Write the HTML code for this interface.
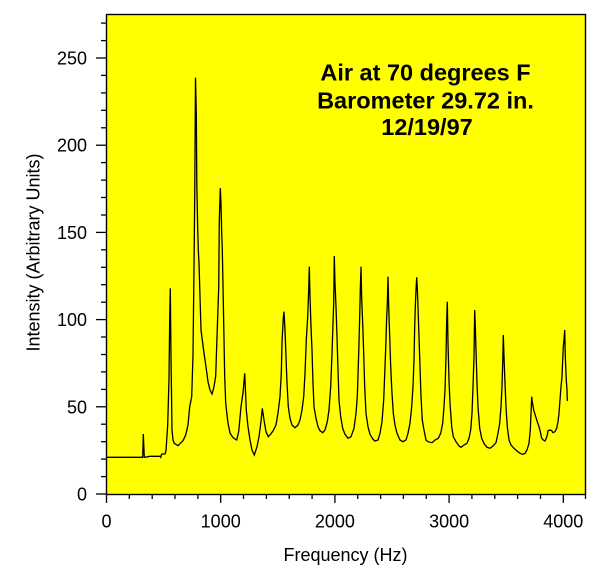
<!DOCTYPE html>
<html>
<head>
<meta charset="utf-8">
<style>
html,body{margin:0;padding:0;background:#fff;}
svg{display:block;}
text{font-family:"Liberation Sans",Arial,sans-serif;fill:#000;}
</style>
</head>
<body>
<svg width="600" height="575" viewBox="0 0 600 575" xmlns="http://www.w3.org/2000/svg">
<rect x="0" y="0" width="600" height="575" fill="#fff"/>
<rect x="106" y="14" width="479.5" height="480.5" fill="#ffff00"/>

<!-- data curve -->
<path fill="none" stroke="#000" stroke-width="1.3" stroke-linejoin="miter" d="
M106,457.3 L142.7,457.3 L143.3,434 L144.3,457 L145,457.3 L150,456.3 L160,456.3 L160.7,457.3 L161.7,454 L165,454 L166,450.7
L167.7,425 L169,379 L169.7,319 L170.3,288.3 L171,356.7 L172,430 L173,440 L174.3,443.3 L178,445.7 L183,440.7 L185.7,435
L188,425 L189.7,406.7 L191.7,396.7 L193,355 L194.3,240 L194.7,199 L195.5,77.7 L196.3,112.3 L196.8,183 L197.7,229 L198.3,250
L199,263 L201,330 L204,353 L206,366.7 L208,381.7 L210,390 L212,394 L214,386.7 L215.7,376 L217,336.7 L218.7,288.3
L219.3,221 L220.3,188 L221,204 L221.7,233 L222.3,250 L223,285 L224.7,376.7 L225.7,403 L227,415 L228,423 L230,433
L233,437.7 L236.7,440 L238.7,431.7 L241,406.7 L243,393 L244.7,373.3 L246.3,410 L248,426.7 L250,440 L252,450 L254.3,455
L257,446.7 L259,436.7 L261,421.7 L262.3,408.3 L264,420 L266,431.7 L268.3,436.7 L270,435 L273,431 L276,425 L278,413
L280,396.7 L281.3,373 L282,343 L283.3,318 L284,311.7 L285,330 L286,356.7 L287,383 L288.3,406.7 L290,418.3 L292,425
L295,427.7 L298,425 L300,420 L302,410 L303.7,396.7 L305,373.3 L306.3,340 L307.7,316.7 L308.7,290 L309.3,266.7
L310,296.7 L311,326.7 L312,350 L313,383 L314,406.7 L316,418.3 L318,426.7 L320,430.7 L322.7,432.7 L325,430 L327.3,421.7
L329,410 L330.7,386.7 L332,353.3 L333,323.3 L333.7,303.3 L334.3,256 L335,283.3 L336,306.7 L337,336.7 L338,370 L339,400
L340.7,416.7 L342.7,428.3 L345,434.3 L348,438.3 L351,436.7 L354,428.3 L356,413.3 L357.3,396.7 L358.7,353.3 L359.7,316.7
L360.3,290 L361,266.7 L361.7,300 L362.7,323.3 L363.7,353.3 L364.7,386.7 L366,413.3 L368,426.7 L370,434.3 L373,439.3
L375,441 L378,440 L380,433.3 L382,421.7 L383.7,400 L385,366.7 L386,340 L386.7,316.7 L387.3,305 L388,276.7 L388.7,306.7
L389.7,336.7 L390.7,366.7 L392,393.3 L393.3,413.3 L395,425 L397,433.3 L400,440 L403,441.7 L406,440 L408,433.3 L410,423.3
L411.7,406.7 L413,386.7 L414,360 L414.7,326.7 L415.3,306.7 L416,290 L416.7,277.3 L417.3,288.3 L418,306.7 L419,336.7
L420,366.7 L421,396.7 L422.3,420 L424,430 L425,435 L426,440 L428,441.7 L432,442.7 L435,440 L438.3,438.3 L440.7,433.3
L442.7,423.3 L444,406.7 L445,390 L446,356.7 L446.7,320 L447.3,301.7 L448,343.3 L449,380 L450,403.3 L451.7,426.7
L453.3,436.7 L456,441.7 L459,446 L461,447.3 L464,445 L467,443.3 L469,438.3 L470.7,430 L472,413.3 L473,386.7 L474,356.7
L474.7,310 L475.3,326.7 L476,350 L477,383.3 L478,406.7 L479.7,428.3 L481.7,438.3 L484.3,444 L487,447.3 L490,448.3
L493,446 L496,442.7 L498,433.3 L499.7,423.3 L501,406.7 L502,386.7 L502.7,363.3 L503.3,335 L504,356.7 L505,383.3
L506,406.7 L507.3,426.7 L509,440 L511,445 L514,448.3 L517,451 L520,453.3 L522.7,454.3 L525,453.3 L527,450 L529,443.3
L530.3,430 L531.3,406.7 L531.7,396.7 L532.3,401.7 L533.7,410 L535.7,416.7 L537.3,421.7 L539,426.7 L540.3,431.7
L541.7,438.3 L543.3,440 L545,441 L546.3,438.3 L547.3,435 L548,430.7 L550,430 L551.7,430.7 L553,432.7 L555,431.7
L556.7,428.3 L558,421.7 L559,413.3 L560,400 L561,386.7 L562,376.7 L562.7,360 L563.3,346.7 L564,340 L564.7,330
L565.3,356.7 L566.3,380 L567,390 L567.3,401"/>

<!-- frame -->
<rect x="106.5" y="14.5" width="479" height="480" fill="none" stroke="#000" stroke-width="1.4"/>

<!-- y ticks -->
<g stroke="#000" stroke-width="1.3">
<line x1="96" y1="494" x2="106" y2="494"/>
<line x1="101" y1="476.6" x2="106" y2="476.6"/>
<line x1="101" y1="459.1" x2="106" y2="459.1"/>
<line x1="101" y1="441.7" x2="106" y2="441.7"/>
<line x1="101" y1="424.2" x2="106" y2="424.2"/>
<line x1="96" y1="406.8" x2="106" y2="406.8"/>
<line x1="101" y1="389.4" x2="106" y2="389.4"/>
<line x1="101" y1="371.9" x2="106" y2="371.9"/>
<line x1="101" y1="354.5" x2="106" y2="354.5"/>
<line x1="101" y1="337" x2="106" y2="337"/>
<line x1="96" y1="319.6" x2="106" y2="319.6"/>
<line x1="101" y1="302.2" x2="106" y2="302.2"/>
<line x1="101" y1="284.7" x2="106" y2="284.7"/>
<line x1="101" y1="267.3" x2="106" y2="267.3"/>
<line x1="101" y1="249.8" x2="106" y2="249.8"/>
<line x1="96" y1="232.4" x2="106" y2="232.4"/>
<line x1="101" y1="215" x2="106" y2="215"/>
<line x1="101" y1="197.5" x2="106" y2="197.5"/>
<line x1="101" y1="180.1" x2="106" y2="180.1"/>
<line x1="101" y1="162.6" x2="106" y2="162.6"/>
<line x1="96" y1="145.2" x2="106" y2="145.2"/>
<line x1="101" y1="127.8" x2="106" y2="127.8"/>
<line x1="101" y1="110.3" x2="106" y2="110.3"/>
<line x1="101" y1="92.9" x2="106" y2="92.9"/>
<line x1="101" y1="75.4" x2="106" y2="75.4"/>
<line x1="96" y1="58" x2="106" y2="58"/>
<line x1="101" y1="40.6" x2="106" y2="40.6"/>
<line x1="101" y1="23.1" x2="106" y2="23.1"/>
</g>

<!-- x ticks -->
<g stroke="#000" stroke-width="1.3">
<line x1="106.5" y1="494" x2="106.5" y2="503"/>
<line x1="129.3" y1="494" x2="129.3" y2="499"/>
<line x1="152.2" y1="494" x2="152.2" y2="499"/>
<line x1="175" y1="494" x2="175" y2="499"/>
<line x1="197.9" y1="494" x2="197.9" y2="499"/>
<line x1="220.7" y1="494" x2="220.7" y2="503"/>
<line x1="243.5" y1="494" x2="243.5" y2="499"/>
<line x1="266.4" y1="494" x2="266.4" y2="499"/>
<line x1="289.2" y1="494" x2="289.2" y2="499"/>
<line x1="312.1" y1="494" x2="312.1" y2="499"/>
<line x1="334.9" y1="494" x2="334.9" y2="503"/>
<line x1="357.7" y1="494" x2="357.7" y2="499"/>
<line x1="380.6" y1="494" x2="380.6" y2="499"/>
<line x1="403.4" y1="494" x2="403.4" y2="499"/>
<line x1="426.3" y1="494" x2="426.3" y2="499"/>
<line x1="449.1" y1="494" x2="449.1" y2="503"/>
<line x1="471.9" y1="494" x2="471.9" y2="499"/>
<line x1="494.8" y1="494" x2="494.8" y2="499"/>
<line x1="517.6" y1="494" x2="517.6" y2="499"/>
<line x1="540.5" y1="494" x2="540.5" y2="499"/>
<line x1="563.3" y1="494" x2="563.3" y2="503"/>
<line x1="585.5" y1="494" x2="585.5" y2="499"/>
</g>

<!-- y tick labels -->
<g font-size="18" text-anchor="end">
<text x="87" y="500.5">0</text>
<text x="87" y="413.3">50</text>
<text x="87" y="326.1">100</text>
<text x="87" y="238.9">150</text>
<text x="87" y="151.7">200</text>
<text x="87" y="64.5">250</text>
</g>

<!-- x tick labels -->
<g font-size="18" text-anchor="middle">
<text x="106.5" y="527.5">0</text>
<text x="220.7" y="527.5">1000</text>
<text x="334.9" y="527.5">2000</text>
<text x="449.1" y="527.5">3000</text>
<text x="563.3" y="527.5">4000</text>
</g>

<!-- axis titles -->
<text x="345.5" y="561" font-size="18" text-anchor="middle">Frequency (Hz)</text>
<text transform="translate(39.5,252.5) rotate(-90)" font-size="18" text-anchor="middle">Intensity (Arbitrary Units)</text>

<!-- annotation -->
<g font-size="23.5" font-weight="bold" text-anchor="middle">
<text x="425.5" y="80.7">Air at 70 degrees F</text>
<text x="425.5" y="108.3">Barometer 29.72 in.</text>
<text x="427" y="135">12/19/97</text>
</g>
</svg>
</body>
</html>
